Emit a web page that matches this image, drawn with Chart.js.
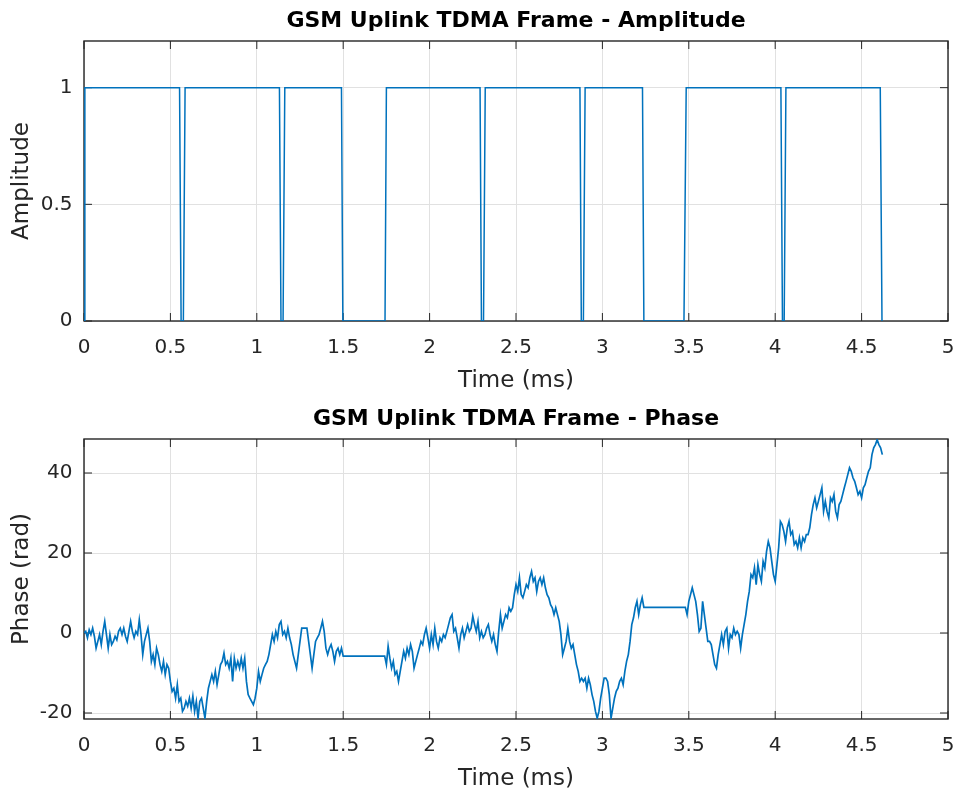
<!DOCTYPE html>
<html><head><meta charset="utf-8">
<script src="https://cdn.jsdelivr.net/npm/chart.js@4.4.1/dist/chart.umd.min.js"></script>
<style>
html,body{margin:0;padding:0;background:#fff;}
canvas{display:block;}
</style></head><body>
<canvas id="amp" width="962" height="398"></canvas>
<canvas id="phase" width="962" height="398"></canvas>
<script>
// ---------------- data ----------------
const ampTitle = 'GSM Uplink TDMA Frame - Amplitude';
const phaseTitle = 'GSM Uplink TDMA Frame - Phase';
const xLabel = 'Time (ms)';
const ampLabel = 'Amplitude';
const phaseLabel = 'Phase (rad)';

const timeTicks = [0, 0.5, 1, 1.5, 2, 2.5, 3, 3.5, 4, 4.5, 5];
const ampTicks = [0, 0.5, 1];
const phaseTicks = [-20, 0, 20, 40];

const ampTimeMs = [0, 0.005, 0.553, 0.562, 0.575, 0.585, 1.131, 1.14, 1.152, 1.162, 1.49, 1.498, 1.742, 1.75,
  2.292, 2.3, 2.312, 2.322, 2.87, 2.878, 2.89, 2.9, 3.232, 3.24, 3.472, 3.485, 4.033, 4.042, 4.052, 4.062, 4.608, 4.618];
const ampValue = [0, 1, 1, 0, 0, 1, 1, 0, 0, 1, 1, 0, 0, 1,
  1, 0, 0, 1, 1, 0, 0, 1, 1, 0, 0, 1, 1, 0, 0, 1, 1, 0];

const phaseTimeMs = [
0,0.01,0.02,0.03,0.04,0.05,0.06,0.07,0.08,0.09,
0.1,0.11,0.12,0.13,0.14,0.15,0.16,0.17,0.18,0.19,
0.2,0.21,0.22,0.23,0.24,0.25,0.26,0.27,0.28,0.29,
0.3,0.31,0.32,0.33,0.34,0.35,0.36,0.37,0.38,0.39,
0.4,0.41,0.42,0.43,0.44,0.45,0.46,0.47,0.48,0.49,
0.5,0.51,0.52,0.53,0.54,0.55,0.56,0.57,0.58,0.59,
0.6,0.61,0.62,0.63,0.64,0.65,0.66,0.67,0.68,0.69,
0.7,0.71,0.72,0.73,0.74,0.75,0.76,0.77,0.78,0.79,
0.8,0.81,0.82,0.83,0.84,0.85,0.86,0.87,0.88,0.89,
0.9,0.91,0.92,0.93,0.94,0.95,0.96,0.97,0.98,0.99,
1,1.01,1.02,1.03,1.04,1.05,1.06,1.07,1.08,1.09,
1.1,1.11,1.12,1.13,1.14,1.15,1.16,1.17,1.18,1.19,
1.2,1.21,1.22,1.23,1.24,1.25,1.26,1.27,1.28,1.29,
1.3,1.31,1.32,1.33,1.34,1.35,1.36,1.37,1.38,1.39,
1.4,1.41,1.42,1.43,1.44,1.45,1.46,1.47,1.48,1.49,
1.5,1.51,1.52,1.53,1.54,1.55,1.56,1.57,1.58,1.59,
1.6,1.61,1.62,1.63,1.64,1.65,1.66,1.67,1.68,1.69,
1.7,1.71,1.72,1.73,1.74,1.75,1.76,1.77,1.78,1.79,
1.8,1.81,1.82,1.83,1.84,1.85,1.86,1.87,1.88,1.89,
1.9,1.91,1.92,1.93,1.94,1.95,1.96,1.97,1.98,1.99,
2,2.01,2.02,2.03,2.04,2.05,2.06,2.07,2.08,2.09,
2.1,2.11,2.12,2.13,2.14,2.15,2.16,2.17,2.18,2.19,
2.2,2.21,2.22,2.23,2.24,2.25,2.26,2.27,2.28,2.29,
2.3,2.31,2.32,2.33,2.34,2.35,2.36,2.37,2.38,2.39,
2.4,2.41,2.42,2.43,2.44,2.45,2.46,2.47,2.48,2.49,
2.5,2.51,2.52,2.53,2.54,2.55,2.56,2.57,2.58,2.59,
2.6,2.61,2.62,2.63,2.64,2.65,2.66,2.67,2.68,2.69,
2.7,2.71,2.72,2.73,2.74,2.75,2.76,2.77,2.78,2.79,
2.8,2.81,2.82,2.83,2.84,2.85,2.86,2.87,2.88,2.89,
2.9,2.91,2.92,2.93,2.94,2.95,2.96,2.97,2.98,2.99,
3,3.01,3.02,3.03,3.04,3.05,3.06,3.07,3.08,3.09,
3.1,3.11,3.12,3.13,3.14,3.15,3.16,3.17,3.18,3.19,
3.2,3.21,3.22,3.23,3.24,3.25,3.26,3.27,3.28,3.29,
3.3,3.31,3.32,3.33,3.34,3.35,3.36,3.37,3.38,3.39,
3.4,3.41,3.42,3.43,3.44,3.45,3.46,3.47,3.48,3.49,
3.5,3.51,3.52,3.53,3.54,3.55,3.56,3.57,3.58,3.59,
3.6,3.61,3.62,3.63,3.64,3.65,3.66,3.67,3.68,3.69,
3.7,3.71,3.72,3.73,3.74,3.75,3.76,3.77,3.78,3.79,
3.8,3.81,3.82,3.83,3.84,3.85,3.86,3.87,3.88,3.89,
3.9,3.91,3.92,3.93,3.94,3.95,3.96,3.97,3.98,3.99,
4,4.01,4.02,4.03,4.04,4.05,4.06,4.07,4.08,4.09,
4.1,4.11,4.12,4.13,4.14,4.15,4.16,4.17,4.18,4.19,
4.2,4.21,4.22,4.23,4.24,4.25,4.26,4.27,4.28,4.29,
4.3,4.31,4.32,4.33,4.34,4.35,4.36,4.37,4.38,4.39,
4.4,4.41,4.42,4.43,4.44,4.45,4.46,4.47,4.48,4.49,
4.5,4.51,4.52,4.53,4.54,4.55,4.56,4.57,4.58,4.59,
4.6,4.61,4.62];

const phaseRad = [
0,0.4,-1.2,0.8,-0.4,1.2,-0.8,-3.8,-2.1,-0.4,
-2.9,0.4,2.9,-0.4,-3.8,-0.4,-2.9,-2.1,-0.8,-1.7,
0.4,1.2,-0.4,1.2,-0.8,-2.1,0.4,2.9,0.4,-1.2,
0.4,-0.4,3.3,-0.4,-5.4,-2.1,-0.4,1.2,-2.1,-7.1,
-5.4,-7.9,-3.8,-5.4,-7.9,-9.6,-7.1,-10.4,-7.9,-8.8,
-12.1,-14.6,-13.8,-16.3,-12.9,-17.1,-16.3,
-19.6,-18.8,-17.1,-18.3,-16.3,-18.8,-15.8,-19.6,-17.1,-21.3,
-17.1,-16.3,-18.8,-21.3,-17.1,-13.8,-12.1,-10.4,-12.1,-9.6,
-12.9,-10.4,-7.9,-7.1,-5.0,-7.9,-7.1,-8.8,-6.3,-12.1,
-6.3,-8.8,-7.1,-8.8,-6.3,-8.8,-6.3,-12.1,-15.4,-16.3,
-17.1,-17.9,-16.3,-13.8,-9.6,-12.1,-10.4,-8.8,-7.9,-7.1,
-5.4,-2.9,-0.4,-2.1,0.4,-1.2,2.1,
2.9,-0.4,0.4,-1.2,1.2,-1.2,-2.9,-5.4,-7.1,-8.8,
-5.4,-2.1,1.2,1.2,1.2,1.2,-2.1,-5.4,-8.8,-5.4,
-2.1,-1.2,-0.4,1.2,2.9,0.4,-3.8,-5.4,-3.8,-2.9,
-4.6,-7.1,-4.6,-3.8,-5.4,-3.8,-5.8,
-5.8,-5.8,-5.8,-5.8,-5.8,-5.8,-5.8,-5.8,-5.8,-5.8,-5.8,-5.8,
-5.8,-5.8,-5.8,-5.8,-5.8,-5.8,-5.8,-5.8,-5.8,-5.8,-5.8,-5.8,
-7.9,-3.3,-6.3,-8.8,-7.1,-10.4,-9.6,-12.1,-9.6,-7.1,
-4.6,-6.3,-3.8,-5.4,-2.9,-4.6,-8.8,-7.1,-5.4,-3.8,
-2.1,-2.9,-0.4,1.2,-1.2,-3.8,-0.4,-2.9,1.2,-2.1,
-3.8,-1.2,-2.1,-0.4,-1.2,0.4,2.1,3.8,4.6,0.4,
1.2,-1.2,-3.8,-0.4,1.2,-1.2,0.4,2.1,0.4,1.2,
4.2,2.1,0.4,2.9,-1.2,0.4,
-1.2,-0.4,1.2,2.1,-0.4,-2.1,-0.4,-2.9,-4.6,0.4,
4.6,1.2,2.9,4.6,3.8,6.3,5.4,6.3,9.6,12.1,
10.4,13.8,9.6,8.8,10.4,12.1,11.3,13.8,15.4,12.9,
13.8,10.4,12.9,13.8,12.1,13.8,11.3,9.6,8.8,7.1,
6.3,4.6,6.3,4.6,2.9,-0.4,-5.4,-3.8,-2.1,1.2,
-2.1,-3.8,-2.9,-5.4,-7.9,-9.6,-12.1,-11.3,
-12.1,-11.3,-13.8,-11.3,-12.9,-15.4,-17.1,-19.6,-21.3,-19.6,
-16.3,-13.8,-11.3,-11.3,-12.1,-15.4,-21.3,-18.8,-16.3,-14.6,
-13.8,-12.1,-11.3,-12.9,-9.6,-7.1,-5.4,-2.1,2.1,3.8,
6.3,7.9,4.6,7.1,8.8,6.4,
6.4,6.4,6.4,6.4,6.4,6.4,6.4,6.4,6.4,6.4,6.4,6.4,
6.4,6.4,6.4,6.4,6.4,6.4,6.4,6.4,6.4,6.4,6.4,
6.4,4.6,7.9,9.6,11.3,9.6,7.9,4.6,0.4,1.2,
7.9,4.6,1.2,-2.1,-2.1,-2.9,-5.4,-7.9,-8.8,-5.4,
-2.9,-0.4,-2.9,0.4,1.2,-3.8,-0.4,-1.2,1.2,-0.4,
0.4,-0.4,-3.8,-0.4,2.1,4.6,7.9,10.4,14.6,13.8,
16.3,12.1,17.1,14.6,12.9,17.9,16.3,20.4,22.9,21.3,
17.9,14.6,12.9,17.1,21.3,27.9,27.1,
25.4,22.9,26.3,27.9,24.6,25.4,22.1,22.9,21.3,23.8,
21.3,23.8,22.9,24.6,24.6,26.3,29.6,32.1,33.8,31.3,
32.9,34.6,36.3,30.4,32.9,30.4,28.8,33.8,32.9,34.6,
30.4,28.8,32.1,32.9,34.6,36.3,37.9,39.6,41.3,40.4,
38.8,37.9,36.3,34.6,35.4,33.8,36.3,37.1,38.8,40.4,
41.3,44.6,46.3,47.1,48.3,47.1,46.3,44.6];

const timeRange = [0, 5];
const ampRange = [0, 1.2];
const phaseRange = [-21.5, 48.5];

// ---------------- drawing ----------------
Chart.defaults.font.family = "'DejaVu Sans', sans-serif";
Chart.defaults.color = '#262626';

const AXIS_DARK = '#262626';
const GRID = '#e1e1e1';
const LINE = '#0072BD';

const boxPlugin = {
  id: 'matlabBox',
  beforeDatasetsDraw(chart) {
    const {ctx, chartArea: a} = chart;
    const xs = chart.scales.x, ys = chart.scales.y;
    const L = 8;
    ctx.save();
    ctx.strokeStyle = AXIS_DARK;
    ctx.lineWidth = 1;
    ctx.beginPath();
    xs.ticks.forEach(t => {
      const p = xs.getPixelForValue(t.value);
      ctx.moveTo(p, a.bottom); ctx.lineTo(p, a.bottom - L);
      ctx.moveTo(p, a.top); ctx.lineTo(p, a.top + L);
    });
    ys.ticks.forEach(t => {
      const p = ys.getPixelForValue(t.value);
      ctx.moveTo(a.left, p); ctx.lineTo(a.left + L, p);
      ctx.moveTo(a.right, p); ctx.lineTo(a.right - L, p);
    });
    ctx.stroke();
    ctx.lineWidth = 1.4;
    ctx.strokeRect(a.left, a.top, a.right - a.left, a.bottom - a.top);
    ctx.restore();
  }
};

function buildChart(id, title, yLabel, xVals, yVals, yTicks, yRange, lineW) {
  const points = xVals.map((x, i) => ({x: x, y: yVals[i]}));
  return new Chart(document.getElementById(id), {
    type: 'line',
    data: { datasets: [{ data: points, borderColor: LINE, borderWidth: lineW, pointRadius: 0,
      tension: 0, fill: false }] },
    options: {
      responsive: false, animation: false, devicePixelRatio: 1, events: [],
      layout: { padding: { left: 0, right: 14, top: 0, bottom: 0 } },
      plugins: {
        legend: { display: false }, tooltip: { enabled: false },
        title: { display: true, text: title, fullSize: false, color: '#000',
          font: { size: 22, weight: 'bold' }, padding: { top: 8, bottom: 6.6 } }
      },
      scales: {
        x: { type: 'linear', min: timeRange[0], max: timeRange[1],
          afterBuildTicks: s => { s.ticks = timeTicks.map(v => ({ value: v })); },
          afterFit: s => { s.height = 77; },
          grid: { color: GRID, drawTicks: true, tickLength: 15, tickColor: 'rgba(0,0,0,0)' },
          border: { display: false },
          ticks: { font: { size: 20 }, padding: 0, maxRotation: 0, autoSkip: false, callback: v => String(v) },
          title: { display: true, text: xLabel, font: { size: 23 }, padding: { top: 0, bottom: 3 } } },
        y: { type: 'linear', min: yRange[0], max: yRange[1],
          afterBuildTicks: s => { s.ticks = yTicks.map(v => ({ value: v })); },
          afterFit: s => { s.width = 84; },
          grid: { color: GRID, drawTicks: true, tickLength: 11.5, tickColor: 'rgba(0,0,0,0)' },
          border: { display: false },
          ticks: { font: { size: 20 }, padding: 0, autoSkip: false, callback: v => String(v) },
          title: { display: true, text: yLabel, font: { size: 23 }, padding: { top: 8, bottom: 0 } } }
      }
    },
    plugins: [boxPlugin]
  });
}

buildChart('amp', ampTitle, ampLabel, ampTimeMs, ampValue, ampTicks, ampRange, 1.5);
buildChart('phase', phaseTitle, phaseLabel, phaseTimeMs, phaseRad, phaseTicks, phaseRange, 1.7);
</script>
</body></html>
